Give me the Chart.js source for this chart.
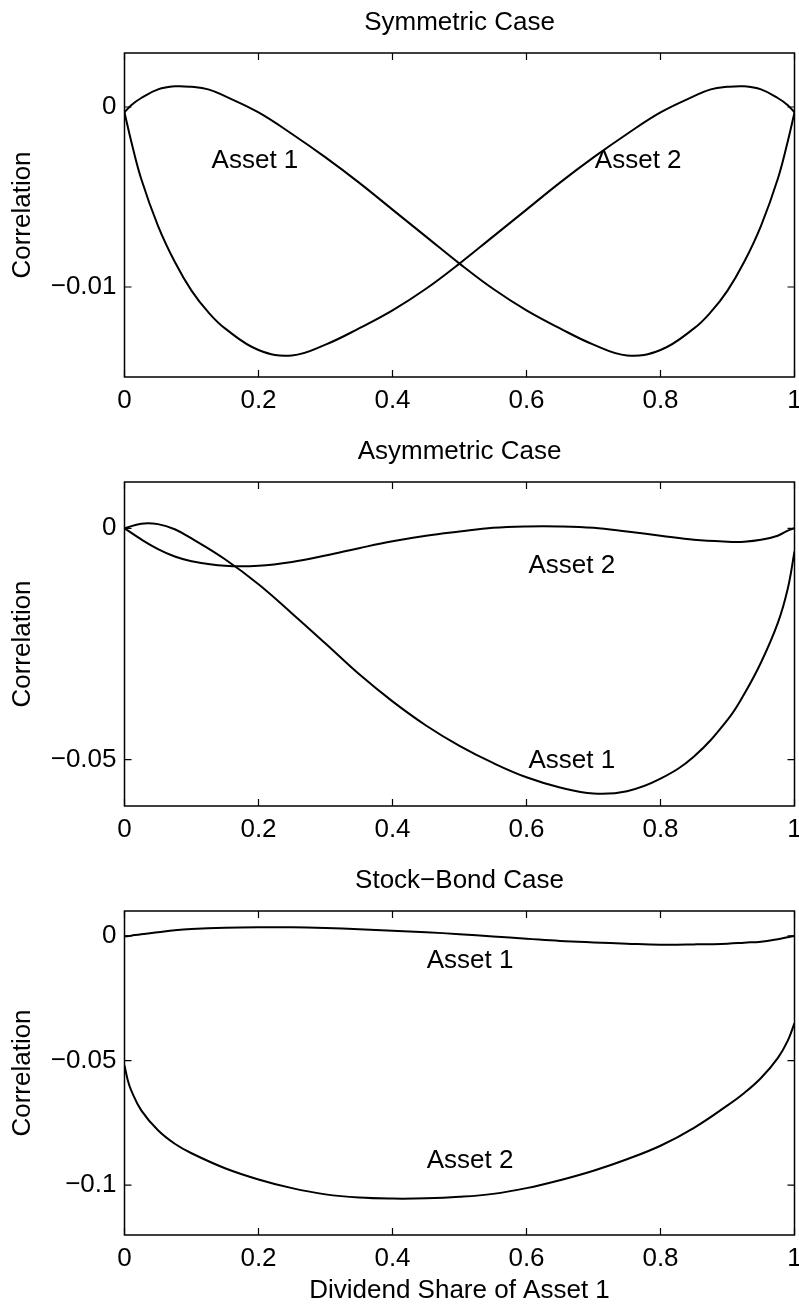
<!DOCTYPE html>
<html>
<head>
<meta charset="utf-8">
<script src="https://cdn.jsdelivr.net/npm/chart.js@4.4.1/dist/chart.umd.min.js"></script>
<style>
html, body { margin: 0; padding: 0; background: #fff; overflow: hidden; width: 799px; height: 1304px; }
canvas { position: absolute; left: 0; }
</style>
</head>
<body>
<canvas id="symChart" width="830" height="427" style="top:0px"></canvas>
<canvas id="asymChart" width="830" height="427" style="top:429px"></canvas>
<canvas id="sbChart" width="830" height="457" style="top:858px"></canvas>
<script>
// dividend share of asset 1 (x) and correlations
const xTicks = [0, 0.2, 0.4, 0.6, 0.8, 1];

const symShare  = [0, 0.01, 0.025, 0.05, 0.075, 0.1, 0.125, 0.15, 0.2, 0.25, 0.3, 0.35, 0.4, 0.45, 0.5, 0.55, 0.6, 0.65, 0.7, 0.75, 0.8, 0.85, 0.875, 0.9, 0.925, 0.95, 0.975, 0.99, 1];
const symAsset1 = [-0.0003, 0.0001, 0.0005, 0.00098, 0.00115, 0.00112, 0.00098, 0.0006, -0.0003, -0.0015, -0.0028, -0.0042, -0.0057, -0.0072, -0.0087, -0.0101, -0.0113, -0.0123, -0.0132, -0.0138, -0.0135, -0.0123, -0.0114, -0.0102, -0.0086, -0.0066, -0.0040, -0.0019, -0.0003];
const symAsset2 = [-0.0003, -0.0019, -0.0040, -0.0066, -0.0086, -0.0102, -0.0114, -0.0123, -0.0135, -0.0138, -0.0132, -0.0123, -0.0113, -0.0101, -0.0087, -0.0072, -0.0057, -0.0042, -0.0028, -0.0015, -0.0003, 0.0006, 0.00098, 0.00112, 0.00115, 0.00098, 0.0005, 0.0001, -0.0003];
const symYTicks = [-0.01, 0];

const asymShare  = [0, 0.025, 0.05, 0.075, 0.1, 0.15, 0.2, 0.25, 0.3, 0.35, 0.4, 0.45, 0.5, 0.55, 0.6, 0.65, 0.7, 0.75, 0.8, 0.85, 0.9, 0.925, 0.95, 0.975, 0.99, 1];
const asymAsset1 = [0, 0.001, 0.0009, -0.0002, -0.0022, -0.0067, -0.0121, -0.0184, -0.0249, -0.0315, -0.0374, -0.0426, -0.0470, -0.0507, -0.0538, -0.0560, -0.0573, -0.0568, -0.0541, -0.0493, -0.0414, -0.0358, -0.0290, -0.0205, -0.0130, -0.005];
const asymAsset2 = [0, -0.0024, -0.0045, -0.0061, -0.0071, -0.0081, -0.0081, -0.0073, -0.0059, -0.0043, -0.0028, -0.0016, -0.0007, 0.0001, 0.0004, 0.0004, 0.0001, -0.0007, -0.0016, -0.0025, -0.0029, -0.0029, -0.0025, -0.0016, -0.0005, 0];
const asymYTicks = [-0.05, 0];

const sbShare  = [0, 0.005, 0.01, 0.025, 0.05, 0.075, 0.1, 0.15, 0.2, 0.25, 0.3, 0.35, 0.4, 0.45, 0.5, 0.55, 0.6, 0.65, 0.7, 0.75, 0.8, 0.85, 0.9, 0.925, 0.95, 0.975, 0.99, 1];
const sbAsset1 = [-0.0002, -0.0001, 0.0001, 0.0007, 0.0015, 0.0023, 0.0028, 0.0033, 0.0035, 0.0035, 0.0032, 0.0027, 0.0021, 0.0015, 0.0007, -0.0002, -0.0011, -0.002, -0.0026, -0.0031, -0.0035, -0.0034, -0.0031, -0.0027, -0.0023, -0.0013, -0.0005, 0];
const sbAsset2 = [-0.052, -0.058, -0.062, -0.070, -0.078, -0.0834, -0.0872, -0.0932, -0.0977, -0.1012, -0.1037, -0.105, -0.1054, -0.1053, -0.1047, -0.1035, -0.1012, -0.0980, -0.0942, -0.0896, -0.0842, -0.077, -0.068, -0.063, -0.057, -0.049, -0.042, -0.035];
const sbYTicks = [-0.1, -0.05, 0];

const FONT = "'Liberation Sans', Arial, Helvetica, sans-serif";
const FS = 26;

function fmt(v) {
    if (v === 0) return '0';
    return (v < 0 ? '\u2212' : '') + String(Math.abs(v));
}

function toPoints(xs, ys) {
    return xs.map((x, i) => ({ x: x, y: ys[i] }));
}

// box around the plot, inward ticks on all four sides, and the text notes
function overlay(notes) {
    return {
        id: 'overlay',
        afterDatasetsDraw(chart) {
            const ctx = chart.ctx;
            const a = chart.chartArea;
            const x = chart.scales.x, y = chart.scales.y;
            ctx.save();
            ctx.strokeStyle = '#000';
            ctx.lineWidth = 1.5;
            ctx.strokeRect(a.left, a.top, a.right - a.left, a.bottom - a.top);
            ctx.lineWidth = 1.2;
            ctx.beginPath();
            x.ticks.forEach(t => {
                const p = x.getPixelForValue(t.value);
                ctx.moveTo(p, a.bottom); ctx.lineTo(p, a.bottom - 7);
                ctx.moveTo(p, a.top); ctx.lineTo(p, a.top + 7);
            });
            y.ticks.forEach(t => {
                const p = y.getPixelForValue(t.value);
                ctx.moveTo(a.left, p); ctx.lineTo(a.left + 7, p);
                ctx.moveTo(a.right, p); ctx.lineTo(a.right - 7, p);
            });
            ctx.stroke();
            ctx.font = FS + 'px ' + FONT;
            ctx.fillStyle = '#000';
            ctx.textAlign = 'left';
            ctx.textBaseline = 'middle';
            notes.forEach(n => {
                ctx.fillText(n.text, x.getPixelForValue(n.x), y.getPixelForValue(n.y));
            });
            ctx.restore();
        }
    };
}

function makeChart(id, cfg) {
    const line = (xs, ys) => ({
        data: toPoints(xs, ys),
        borderColor: '#000',
        borderWidth: 2,
        pointRadius: 0,
        fill: false,
        tension: 0.4
    });
    return new Chart(document.getElementById(id).getContext('2d'), {
        type: 'line',
        data: {
            datasets: [line(cfg.xs, cfg.a1), line(cfg.xs, cfg.a2)]
        },
        options: {
            responsive: false,
            animation: false,
            layout: { padding: { left: 0, right: 35.5, top: 0, bottom: 0 } },
            scales: {
                x: {
                    type: 'linear',
                    min: 0,
                    max: 1,
                    afterBuildTicks: s => { s.ticks = xTicks.map(v => ({ value: v })); },
                    afterFit: s => { s.height = cfg.xTitle ? 80 : 50; },
                    grid: { display: false, drawTicks: false },
                    border: { display: false },
                    ticks: {
                        color: '#000',
                        font: { family: FONT, size: FS },
                        padding: 8.4,
                        maxRotation: 0,
                        autoSkip: false,
                        callback: v => fmt(v)
                    },
                    title: {
                        display: !!cfg.xTitle,
                        text: cfg.xTitle || '',
                        color: '#000',
                        font: { family: FONT, size: FS },
                        padding: { top: 0, bottom: 8.4 }
                    }
                },
                y: {
                    type: 'linear',
                    min: cfg.yMin,
                    max: cfg.yMax,
                    afterBuildTicks: s => { s.ticks = cfg.yTicks.map(v => ({ value: v })); },
                    afterFit: s => { s.width = 124.5; },
                    grid: { display: false, drawTicks: false },
                    border: { display: false },
                    ticks: {
                        color: '#000',
                        font: { family: FONT, size: FS },
                        padding: 8,
                        autoSkip: false,
                        callback: v => fmt(v)
                    },
                    title: {
                        display: true,
                        text: 'Correlation',
                        color: '#000',
                        font: { family: FONT, size: FS },
                        padding: { top: 7.4, bottom: 0 }
                    }
                }
            },
            plugins: {
                legend: { display: false },
                tooltip: { enabled: false },
                title: {
                    display: true,
                    text: cfg.title,
                    fullSize: false,
                    color: '#000',
                    font: { family: FONT, size: FS, weight: 'normal' },
                    padding: { top: 7.4, bottom: 14.4 }
                }
            }
        },
        plugins: [overlay(cfg.notes)]
    });
}

makeChart('symChart', {
    title: 'Symmetric Case',
    xs: symShare, a1: symAsset1, a2: symAsset2,
    yMin: -0.015, yMax: 0.003, yTicks: symYTicks,
    notes: [
        { text: 'Asset 1', x: 0.13, y: -0.003 },
        { text: 'Asset 2', x: 0.702, y: -0.003 }
    ]
});

makeChart('asymChart', {
    title: 'Asymmetric Case',
    xs: asymShare, a1: asymAsset1, a2: asymAsset2,
    yMin: -0.06, yMax: 0.01, yTicks: asymYTicks,
    notes: [
        { text: 'Asset 2', x: 0.603, y: -0.0082 },
        { text: 'Asset 1', x: 0.603, y: -0.0503 }
    ]
});

makeChart('sbChart', {
    title: 'Stock\u2212Bond Case',
    xTitle: 'Dividend Share of Asset 1',
    xs: sbShare, a1: sbAsset1, a2: sbAsset2,
    yMin: -0.12, yMax: 0.01, yTicks: sbYTicks,
    notes: [
        { text: 'Asset 1', x: 0.451, y: -0.010 },
        { text: 'Asset 2', x: 0.451, y: -0.0903 }
    ]
});
</script>
</body>
</html>
